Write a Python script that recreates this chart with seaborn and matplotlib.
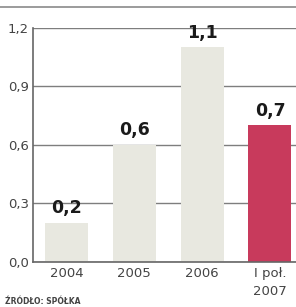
import pandas as pd
import matplotlib.pyplot as plt
import seaborn as sns
from matplotlib.lines import Line2D

# Data
categories = ['2004', '2005', '2006', 'I poł.\n2007']
values = [0.2, 0.6, 1.1, 0.7]
value_labels = ['0,2', '0,6', '1,1', '0,7']
yticks = [0.0, 0.3, 0.6, 0.9, 1.2]
ytick_labels = ['0,0', '0,3', '0,6', '0,9', '1,2']
source = 'ŹRÓDŁO: SPÓŁKA'

df = pd.DataFrame({'okres': categories, 'wartosc': values})
colors = ['#e8e8e0', '#e8e8e0', '#e8e8e0', '#c83a5c']

sns.set_style('white')
plt.rcParams['font.family'] = ['DejaVu Sans']

fig = plt.figure(figsize=(2.96, 3.07), dpi=100)
ax = fig.add_axes([0.111, 0.147, 0.889, 0.762])

sns.barplot(data=df, x='okres', y='wartosc', hue='okres', palette=colors,
            legend=False, width=0.635, saturation=1, linewidth=0,
            ax=ax, zorder=2)

ax.set_ylim(0, 1.2)
ax.set_xlim(-0.495, 3.384)
ax.set_yticks(yticks)
ax.set_yticklabels(ytick_labels)
ax.yaxis.grid(True, color='#7e7e7e', linewidth=1.0)
ax.set_axisbelow(True)
ax.set_xlabel('')
ax.set_ylabel('')
ax.tick_params(axis='both', length=0, labelsize=9.5, colors='#444444', pad=3)
ax.tick_params(axis='x', pad=4)
for t in ax.get_xticklabels():
    t.set_linespacing(1.5)

for s in ['top', 'right']:
    ax.spines[s].set_visible(False)
for s in ['left', 'bottom']:
    ax.spines[s].set_color('#666666')
    ax.spines[s].set_linewidth(1.2)

for i, (v, lab) in enumerate(zip(values, value_labels)):
    ax.text(i, v + 0.03, lab, ha='center', va='bottom', fontsize=12.5,
            fontweight='bold', color='#1a1a1a', zorder=3)

# header rule at the top
fig.add_artist(Line2D([0, 1], [0.977, 0.977], color='#8a8a8a', linewidth=1.2))

fig.text(0.017, 0.01, source, fontsize=5.5, fontweight='bold', color='#444444')

plt.savefig('out.png', dpi=100)
